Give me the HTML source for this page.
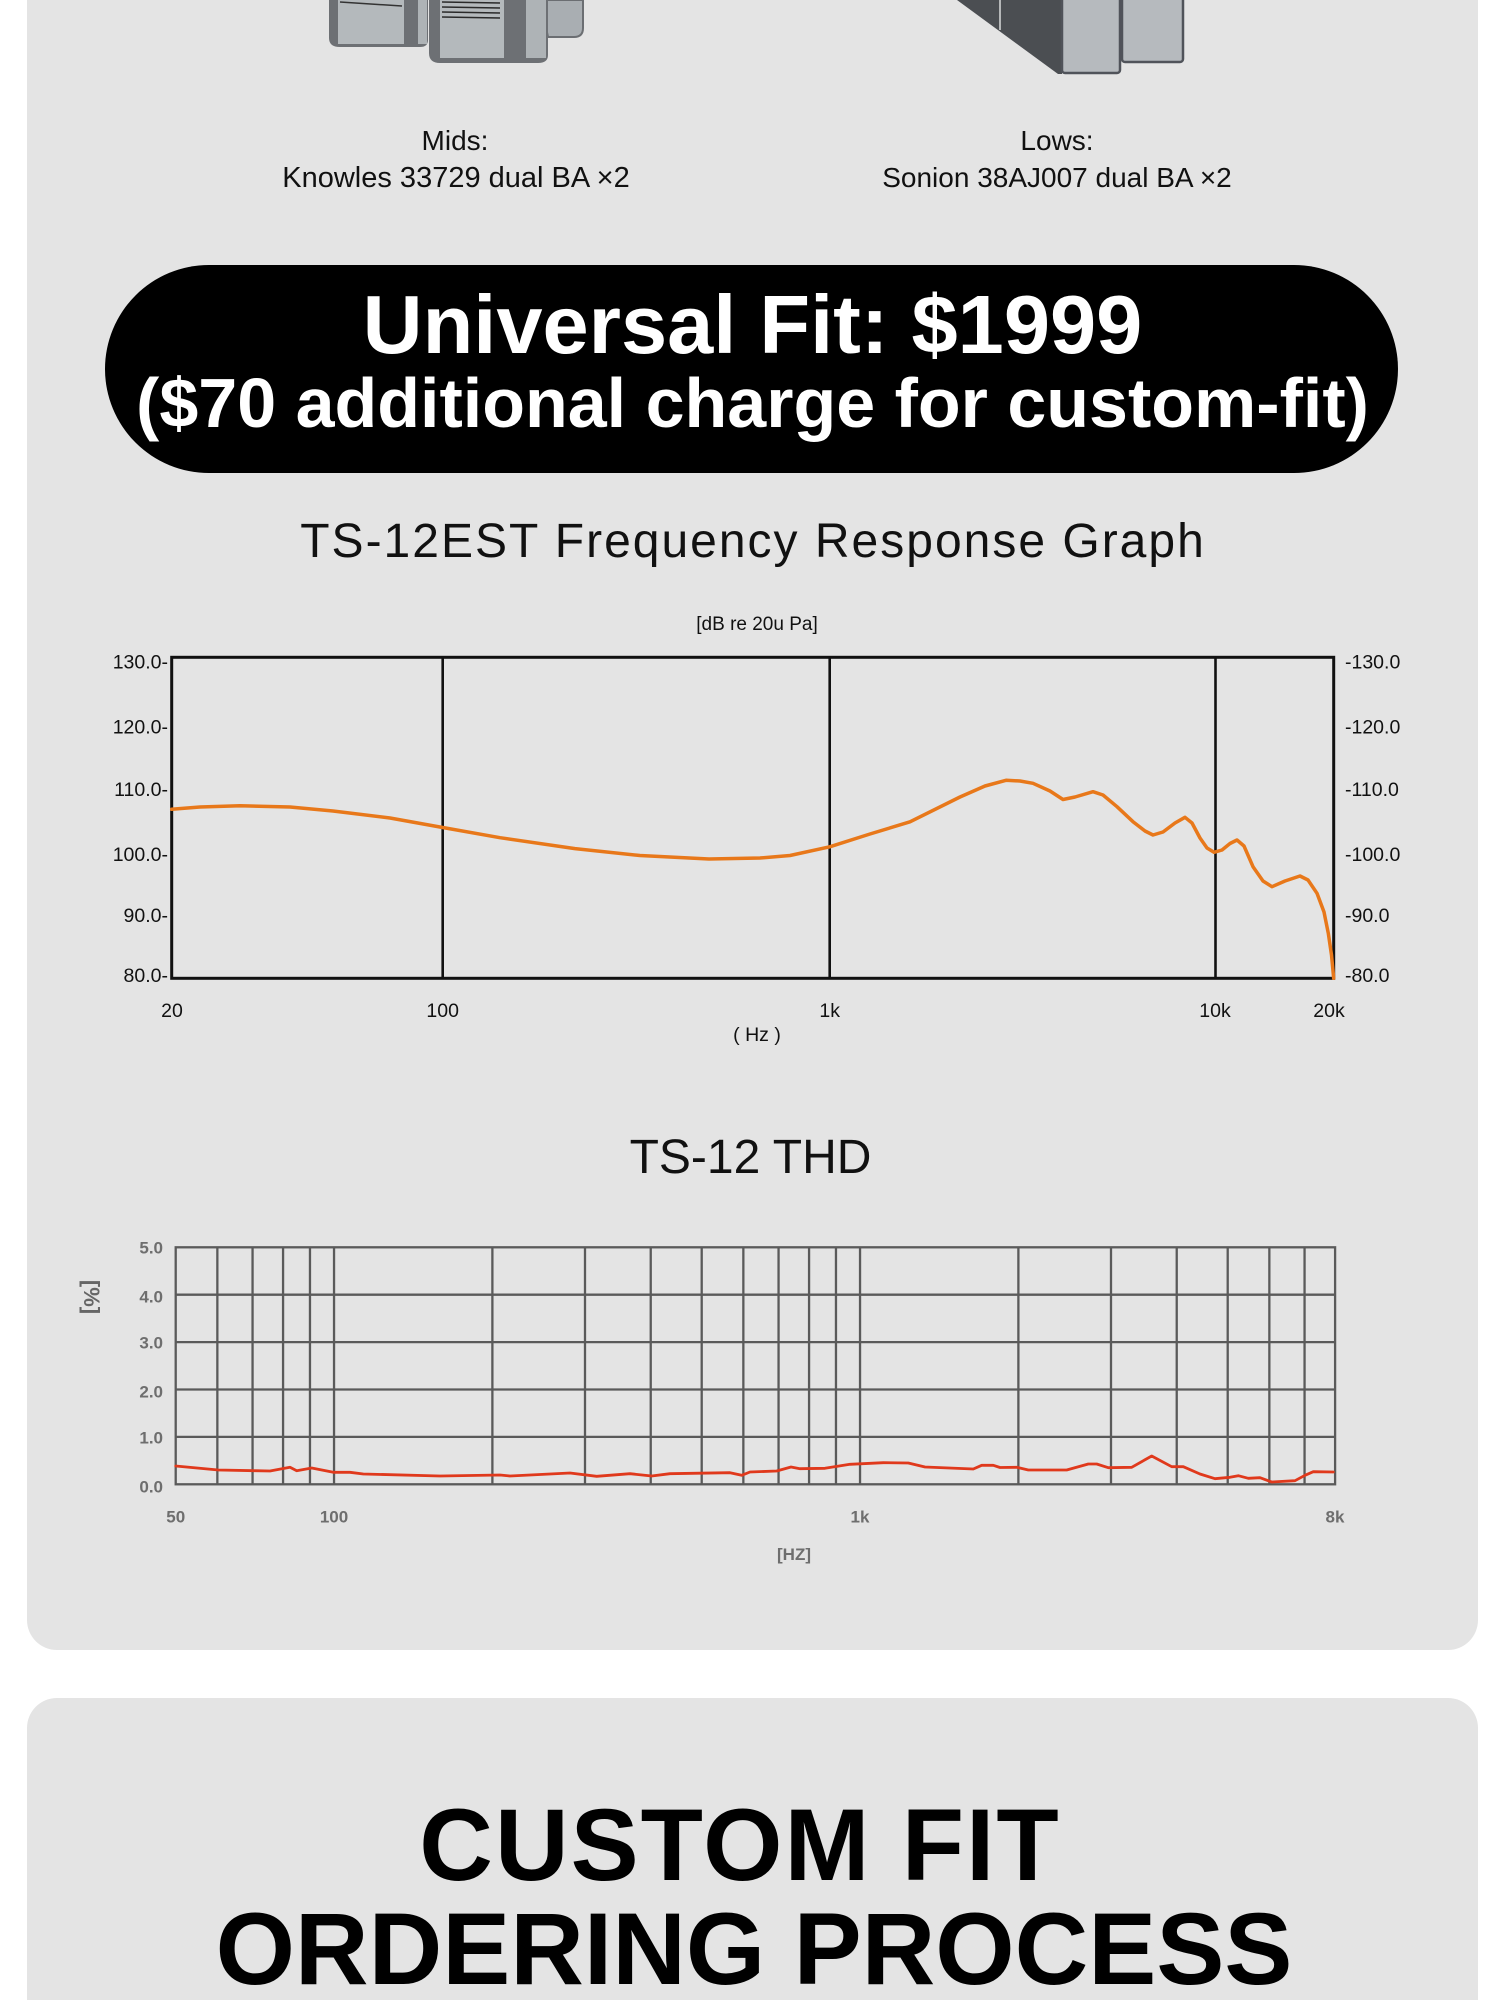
<!DOCTYPE html>
<html>
<head>
<meta charset="utf-8">
<style>
  html,body{margin:0;padding:0;background:#ffffff;}
  body{width:1500px;height:2000px;overflow:hidden;}
  svg{display:block;}
  text{font-family:"Liberation Sans",Arial,sans-serif;}
</style>
</head>
<body>
<svg width="1500" height="2000" viewBox="0 0 1500 2000" xmlns="http://www.w3.org/2000/svg">
  <!-- cards -->
  <rect x="27" y="-60" width="1451" height="1710" rx="30" ry="30" fill="#e4e4e4"/>
  <rect x="27" y="1698" width="1451" height="400" rx="30" ry="30" fill="#e4e4e4"/>

  <!-- Mids speaker illustration -->
  <g>
    <path d="M540 0 H583 V28 Q583 37 574 37 H548 Z" fill="#a9aeb2" stroke="#6b6e72" stroke-width="2"/>
    <path d="M329 0 H428 V40 Q428 47 420 47 H340 Q329 47 329 38 Z" fill="#6d7074"/>
    <rect x="338" y="0" width="66" height="44" fill="#b4b9bc"/>
    <rect x="418" y="0" width="9" height="44" fill="#aeb3b6"/>
    <line x1="340" y1="2" x2="402" y2="6" stroke="#333" stroke-width="1.5"/>
    <path d="M429 0 H548 V55 Q548 63 538 63 H440 Q429 63 429 53 Z" fill="#6d7074"/>
    <rect x="440" y="0" width="64" height="58" fill="#b4b9bc"/>
    <rect x="526" y="0" width="20" height="58" fill="#aeb3b6"/>
    <line x1="442" y1="2" x2="500" y2="3" stroke="#2a2a2a" stroke-width="1.5"/>
    <line x1="442" y1="7" x2="500" y2="8" stroke="#2a2a2a" stroke-width="1.5"/>
    <line x1="442" y1="12" x2="500" y2="13" stroke="#2a2a2a" stroke-width="1.5"/>
    <line x1="442" y1="17" x2="500" y2="18" stroke="#2a2a2a" stroke-width="1.5"/>
  </g>

  <!-- Lows speaker illustration -->
  <g>
    <polygon points="957,0 1062,0 1062,74 1058,74" fill="#4b4e52"/>
    <line x1="1000" y1="0" x2="1000" y2="30" stroke="#ffffff" stroke-width="1.2"/>
    <rect x="1062" y="-6" width="58" height="79" rx="3" fill="#b6babe" stroke="#50535a" stroke-width="2.5"/>
    <rect x="1122" y="-6" width="61" height="68" rx="3" fill="#b6babe" stroke="#50535a" stroke-width="2.5"/>
  </g>

  <!-- driver labels -->
  <text x="455" y="150" font-size="28" text-anchor="middle" fill="#111">Mids:</text>
  <text x="456" y="187" font-size="29" text-anchor="middle" fill="#111">Knowles 33729 dual BA ×2</text>
  <text x="1057" y="150" font-size="28" text-anchor="middle" fill="#111">Lows:</text>
  <text x="1057" y="187" font-size="28" text-anchor="middle" fill="#111">Sonion 38AJ007 dual BA ×2</text>

  <!-- price pill -->
  <rect x="105" y="265" width="1293" height="208" rx="104" ry="104" fill="#000"/>
  <text x="752.5" y="353" font-size="83" font-weight="bold" text-anchor="middle" fill="#fff">Universal Fit: $1999</text>
  <text x="752.5" y="427" font-size="70" font-weight="bold" text-anchor="middle" fill="#fff">($70 additional charge for custom-fit)</text>

  <!-- FR graph -->
  <text x="753" y="557" font-size="48" letter-spacing="2" text-anchor="middle" fill="#111">TS-12EST Frequency Response Graph</text>
  <text x="757" y="630" font-size="19" text-anchor="middle" fill="#111">[dB re 20u Pa]</text>

  <g stroke="#111" fill="none">
    <line x1="442.7" y1="657" x2="442.7" y2="978" stroke-width="2.6"/>
    <line x1="829.7" y1="657" x2="829.7" y2="978" stroke-width="2.6"/>
    <line x1="1215.5" y1="657" x2="1215.5" y2="978" stroke-width="2.6"/>
    <rect x="171.7" y="657.3" width="1162" height="321" stroke-width="3"/>
  </g>

  <g font-size="19.5" fill="#111" text-anchor="end">
    <text x="168" y="668.5">130.0-</text>
    <text x="168" y="733.5">120.0-</text>
    <text x="168" y="796">110.0-</text>
    <text x="168" y="861">100.0-</text>
    <text x="168" y="922">90.0-</text>
    <text x="168" y="982">80.0-</text>
  </g>
  <g font-size="19.5" fill="#111" text-anchor="start">
    <text x="1345" y="668.5">-130.0</text>
    <text x="1345" y="733.5">-120.0</text>
    <text x="1345" y="796">-110.0</text>
    <text x="1345" y="861">-100.0</text>
    <text x="1345" y="922">-90.0</text>
    <text x="1345" y="982">-80.0</text>
  </g>
  <g font-size="19.5" fill="#111" text-anchor="middle">
    <text x="172" y="1017">20</text>
    <text x="442.7" y="1017">100</text>
    <text x="829.7" y="1017">1k</text>
    <text x="1215" y="1017">10k</text>
    <text x="1329" y="1017">20k</text>
    <text x="757" y="1041">( Hz )</text>
  </g>

  <polyline fill="none" stroke="#e8781a" stroke-width="3.5" stroke-linejoin="round" stroke-linecap="round"
    points="171.7,809.3 200,807 240,805.7 290,807 333,811 390,818 442.7,827.5 500,837.7 575,848.6 640,855.5 709,859 760,858 790,855.5 829.7,846.8 870,834 910,821.8 960,797 985,786 1006,780.3 1020,781 1033,783.3 1050,791 1063,799.5 1075,797 1093,791.7 1103,795 1117,806.7 1133,821.7 1145,831 1153,835 1163,832 1175,823 1185,817.3 1192,823 1200,838 1207,848 1214,852.3 1222,850 1230,843.5 1237,840 1244,846 1253,866.7 1263,881 1272,886.7 1285,881 1300,876 1308,880 1317,893.3 1324,912 1328.3,933.3 1331.5,955 1333.7,978.3"/>

  <!-- THD graph -->
  <text x="750.5" y="1173" font-size="48" text-anchor="middle" fill="#111">TS-12 THD</text>

  <g stroke="#5a5a5a" stroke-width="2.3" fill="none">
    <line x1="175.7" y1="1294.7" x2="1335" y2="1294.7"/>
    <line x1="175.7" y1="1342.1" x2="1335" y2="1342.1"/>
    <line x1="175.7" y1="1389.5" x2="1335" y2="1389.5"/>
    <line x1="175.7" y1="1436.9" x2="1335" y2="1436.9"/>
    <line x1="217.35" y1="1247.3" x2="217.35" y2="1484.3"/>
    <line x1="252.56" y1="1247.3" x2="252.56" y2="1484.3"/>
    <line x1="283.07" y1="1247.3" x2="283.07" y2="1484.3"/>
    <line x1="309.97" y1="1247.3" x2="309.97" y2="1484.3"/>
    <line x1="334.04" y1="1247.3" x2="334.04" y2="1484.3"/>
    <line x1="492.38" y1="1247.3" x2="492.38" y2="1484.3"/>
    <line x1="585" y1="1247.3" x2="585" y2="1484.3"/>
    <line x1="650.73" y1="1247.3" x2="650.73" y2="1484.3"/>
    <line x1="701.7" y1="1247.3" x2="701.7" y2="1484.3"/>
    <line x1="743.35" y1="1247.3" x2="743.35" y2="1484.3"/>
    <line x1="778.56" y1="1247.3" x2="778.56" y2="1484.3"/>
    <line x1="809.07" y1="1247.3" x2="809.07" y2="1484.3"/>
    <line x1="835.97" y1="1247.3" x2="835.97" y2="1484.3"/>
    <line x1="860.04" y1="1247.3" x2="860.04" y2="1484.3"/>
    <line x1="1018.38" y1="1247.3" x2="1018.38" y2="1484.3"/>
    <line x1="1111" y1="1247.3" x2="1111" y2="1484.3"/>
    <line x1="1176.73" y1="1247.3" x2="1176.73" y2="1484.3"/>
    <line x1="1227.7" y1="1247.3" x2="1227.7" y2="1484.3"/>
    <line x1="1269.35" y1="1247.3" x2="1269.35" y2="1484.3"/>
    <line x1="1304.56" y1="1247.3" x2="1304.56" y2="1484.3"/>
    <rect x="175.7" y="1247.3" width="1159.4" height="237"/>
  </g>

  <g font-size="17" font-weight="bold" fill="#6e6e6e" text-anchor="end">
    <text x="163" y="1253.5">5.0</text>
    <text x="163" y="1302.5">4.0</text>
    <text x="163" y="1348.5">3.0</text>
    <text x="163" y="1397.5">2.0</text>
    <text x="163" y="1443.5">1.0</text>
    <text x="163" y="1492.5">0.0</text>
  </g>
  <g font-size="17" font-weight="bold" fill="#6e6e6e" text-anchor="middle">
    <text x="175.7" y="1522.5">50</text>
    <text x="334" y="1522.5">100</text>
    <text x="860" y="1522.5">1k</text>
    <text x="1335" y="1522.5">8k</text>
    <text x="794" y="1560">[HZ]</text>
  </g>
  <text x="0" y="0" font-size="22" font-weight="bold" fill="#666" text-anchor="middle" transform="translate(84,1297) rotate(90)">[%]</text>

  <polyline fill="none" stroke="#e0391c" stroke-width="2.8" stroke-linejoin="round" stroke-linecap="round"
    points="175.7,1466 218.3,1470 253.3,1470.7 270,1471 290,1467.3 296.7,1470.7 311.7,1468 333.3,1472.3 350,1472.3 363.3,1474 440,1476 500,1475 510,1476 570,1473 596.7,1476.3 630,1473.7 651.7,1476 670,1473.7 730,1472.7 741.7,1475.3 750,1472 776.7,1471 791,1467 800,1468.7 825,1468.3 850,1464.3 883.3,1462.7 908.3,1463 925,1467 973.3,1469 981.7,1465.3 993.3,1465.3 1000,1467.5 1016.7,1467.3 1028.3,1470 1066.7,1470 1088.3,1464 1096.7,1464 1108.3,1467.7 1131.7,1467.3 1151.7,1456 1171.7,1466.7 1183.3,1466.7 1200,1474 1215,1478.7 1230,1477.3 1238.3,1475.7 1248.3,1478.3 1260,1477.7 1271.7,1482 1295,1480.7 1305,1475.3 1313.3,1471.7 1333.3,1472"/>

  <!-- ordering process heading -->
  <text x="740" y="1880" font-size="102" font-weight="bold" letter-spacing="2" text-anchor="middle" fill="#000">CUSTOM FIT</text>
  <text x="754" y="1984" font-size="102" font-weight="bold" text-anchor="middle" fill="#000">ORDERING PROCESS</text>
</svg>
</body>
</html>
